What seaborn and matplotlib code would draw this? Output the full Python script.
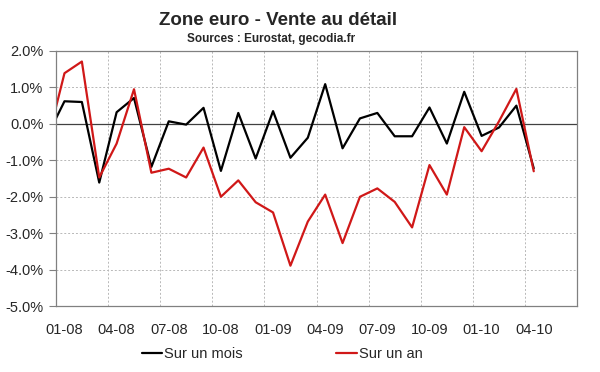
import numpy as np
import pandas as pd
import matplotlib
matplotlib.use("Agg")
import matplotlib.pyplot as plt
import seaborn as sns

# Monthly data, Dec 2007 (partly visible at the left edge) to Apr 2010
months = ["12-07",
          "01-08", "02-08", "03-08", "04-08", "05-08", "06-08", "07-08", "08-08", "09-08", "10-08", "11-08", "12-08",
          "01-09", "02-09", "03-09", "04-09", "05-09", "06-09", "07-09", "08-09", "09-09", "10-09", "11-09", "12-09",
          "01-10", "02-10", "03-10", "04-10"]
sur_un_mois = [-0.34,
               0.62, 0.60, -1.61, 0.32, 0.71, -1.18, 0.07, -0.02, 0.44, -1.29, 0.30, -0.95,
               0.35, -0.93, -0.38, 1.09, -0.67, 0.15, 0.30, -0.34, -0.34, 0.45, -0.54, 0.88,
               -0.33, -0.10, 0.50, -1.22]
sur_un_an = [-0.51,
             1.39, 1.71, -1.47, -0.54, 0.95, -1.34, -1.23, -1.47, -0.65, -2.00, -1.55, -2.15,
             -2.43, -3.89, -2.68, -1.94, -3.27, -2.00, -1.77, -2.14, -2.84, -1.13, -1.94, -0.09,
             -0.75, 0.07, 0.96, -1.30]
# full category axis runs Jan 2008 to Jun 2010
axis_categories = ["01-08", "02-08", "03-08", "04-08", "05-08", "06-08", "07-08", "08-08", "09-08",
                   "10-08", "11-08", "12-08", "01-09", "02-09", "03-09", "04-09", "05-09", "06-09",
                   "07-09", "08-09", "09-09", "10-09", "11-09", "12-09", "01-10", "02-10", "03-10",
                   "04-10", "05-10", "06-10"]
yticks = [2, 1, 0, -1, -2, -3, -4, -5]
series_names = ["Sur un mois", "Sur un an"]

pos = {m: i for i, m in enumerate(axis_categories)}
pos["12-07"] = -1
df = pd.DataFrame({
    "x": [pos[m] for m in months] * 2,
    "val": sur_un_mois + sur_un_an,
    "serie": [series_names[0]] * len(months) + [series_names[1]] * len(months),
})

sns.set_style("white")
plt.rcParams['font.family'] = ['Liberation Sans', 'DejaVu Sans']

fig = plt.figure(figsize=(6.0, 3.72), dpi=100)
ax = fig.add_axes([0.093, 0.177, 0.869, 0.686])

sns.lineplot(data=df, x="x", y="val", hue="serie", palette=["#000000", "#d01818"],
             linewidth=1.6, ax=ax, legend=False, sort=False)

ax.set_xlim(-0.5, len(axis_categories) - 0.5)
ax.set_ylim(-5, 2)

# gridlines
for b in np.arange(2.5, len(axis_categories) - 1, 3):
    ax.axvline(b, color="#b8b8b8", lw=0.7, ls=(0, (2, 2)), zorder=0)
for t in yticks:
    if t not in (0, 2, -5):
        ax.axhline(t, color="#b8b8b8", lw=0.7, ls=(0, (2, 2)), zorder=0)
ax.axhline(0, color="#404040", lw=0.9, zorder=1)

ax.set_yticks(yticks)
ax.set_yticklabels([f"{t:.1f}%" for t in yticks])
lab_idx = list(range(0, len(axis_categories), 3))
ax.set_xticks(lab_idx)
ax.set_xticklabels([axis_categories[i] for i in lab_idx])
ax.tick_params(axis="y", length=5, width=0.8, color="#808080", pad=4, labelsize=10.5, direction="out", left=True)
ax.tick_params(axis="x", length=0, pad=12, labelsize=10.5)
for s in ax.spines.values():
    s.set_color("#808080")
    s.set_linewidth(0.9)
ax.set_xlabel("")
ax.set_ylabel("")

fig.text(0.464, 0.946, "Zone euro - Vente au détail", ha="center", va="center",
         fontsize=13.5, fontweight="bold")
fig.text(0.4525, 0.895, "Sources : Eurostat, gecodia.fr", ha="center", va="center",
         fontsize=8.5, fontweight="bold")

from matplotlib.lines import Line2D
handles = [Line2D([], [], color="#000000", lw=1.6), Line2D([], [], color="#d01818", lw=1.6)]
fig.legend(handles, series_names, loc="center", bbox_to_anchor=(0.47, 0.048), ncol=2,
           frameon=False, fontsize=10.5, handlelength=1.4, handletextpad=0.15,
           columnspacing=6.4)

fig.savefig("out.png", dpi=100)
